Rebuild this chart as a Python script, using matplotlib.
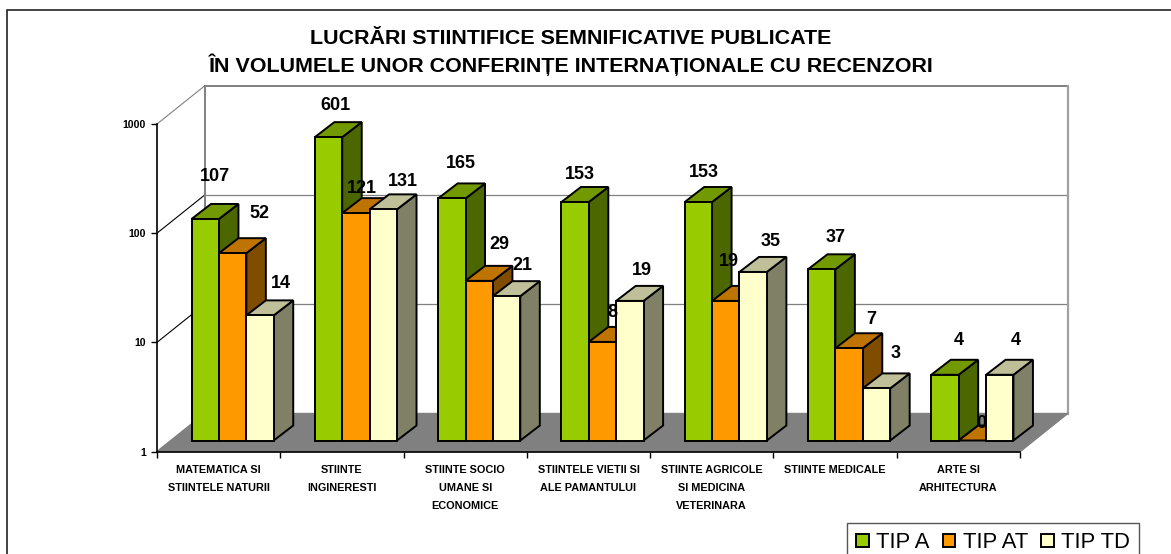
import numpy as np
import matplotlib
matplotlib.use('Agg')
import matplotlib.pyplot as plt
from matplotlib.patches import Patch, Polygon, Rectangle

plt.rcParams['font.family'] = ['Liberation Sans', 'DejaVu Sans']

title = 'LUCRĂRI STIINTIFICE SEMNIFICATIVE PUBLICATE\nÎN VOLUMELE UNOR CONFERINȚE INTERNAȚIONALE CU RECENZORI'

categories = ['MATEMATICA SI\nSTIINTELE NATURII', 'STIINTE\nINGINERESTI',
              'STIINTE SOCIO\nUMANE SI\nECONOMICE', 'STIINTELE VIETII SI\nALE PAMANTULUI',
              'STIINTE AGRICOLE\nSI MEDICINA\nVETERINARA', 'STIINTE MEDICALE',
              'ARTE SI\nARHITECTURA']
series_names = ['TIP A', 'TIP AT', 'TIP TD']
tip_a = [107, 601, 165, 153, 153, 37, 4]
tip_at = [52, 121, 29, 8, 19, 7, 0]
tip_td = [14, 131, 21, 19, 35, 3, 4]
y_ticks = [1, 10, 100, 1000]

# front, side, top colours of each series
colors = [('#99CC00', '#4C6600', '#739900'),
          ('#FF9900', '#804D00', '#BF7300'),
          ('#FFFFCC', '#808066', '#BFBF99')]

# where Excel put each value label, pixels from the middle of the bar top
label_dx = [[10, 27, 21], [7, 6, 20], [9, 20, 16], [5, 10, 12], [5, 3, 17], [14, 22, 19], [14, 9, 16]]
label_dy = [[42, 40, 32], [32, 25, 28], [35, 36, 31], [28, 29, 30], [30, 39, 30], [32, 29, 35], [34, 17, 34]]

W, H = 1171, 554
fig = plt.figure(figsize=(W / 100, H / 100), dpi=100)
ax = fig.add_axes([157 / W, (H - 451.5) / H, 863 / W, 327.5 / H])
ax.set_xlim(0, len(categories))
ax.set_yscale('log')
ax.set_ylim(1, 1000)

px_x = 863 / len(categories)
px_y = 327.5 / 3


def shift(x, y, dx, dy):
    """move a data point by dx, dy pixels (y up), works on the log axis"""
    return x + dx / px_x, y * 10 ** (dy / px_y)


def face(points, color, z, lw=1.4, edge='black'):
    ax.add_patch(Polygon(points, closed=True, facecolor=color, edgecolor=edge,
                         linewidth=lw, zorder=z, clip_on=False, joinstyle='miter'))


# walls and floor
n = len(categories)
depth = (47.5, 38)
floor = [(0, 1), (n, 1), shift(n, 1, *depth), shift(0, 1, *depth)]
face(floor, '#808080', 1.5, lw=1, edge='#808080')
for v in y_ticks[1:]:
    ax.plot(*zip((0, v), shift(0, v, *depth)), color='black' if v < 1000 else '#808080',
            lw=0.8, zorder=1, clip_on=False)
    ax.plot(*zip(shift(0, v, *depth), shift(n, v, *depth)), color='#808080',
            lw=1.4 if v == 1000 else 0.9, zorder=1, clip_on=False)
ax.plot(*zip(shift(0, 1, *depth), shift(0, 1000, *depth)), color='#808080', lw=1.4, zorder=1, clip_on=False)
ax.plot(*zip(shift(n, 1, *depth), shift(n, 1000, *depth)), color='#A0A0A0', lw=1.6, zorder=1, clip_on=False)
ax.plot(*zip((n, 1), shift(n, 1, *depth)), color='#808080', lw=1, zorder=1.6, clip_on=False)

# bars, front plane sits a bit inside the floor
bar_w = 1 / 4.5
base_dx, base_dy = 14, 11
bar_depth = (19.5, 15)
z = 3
for i in range(n):
    for s, values in enumerate([tip_a, tip_at, tip_td]):
        v = max(values[i], 1)
        x0, bottom = shift(i + 0.5 - 1.5 * bar_w + s * bar_w, 1, base_dx, base_dy)
        x1 = x0 + bar_w
        top = v * bottom
        front, side, upper = colors[s]
        face([(x1, bottom), shift(x1, bottom, *bar_depth), shift(x1, top, *bar_depth), (x1, top)], side, z)
        face([(x0, top), (x1, top), shift(x1, top, *bar_depth), shift(x0, top, *bar_depth)], upper, z)
        if values[i] > 1:
            ax.bar(x0, top - bottom, width=bar_w, bottom=bottom, align='edge', color=front,
                   edgecolor='black', linewidth=1.4, zorder=z, clip_on=False)
        ax.annotate(str(values[i]), xy=(x0 + bar_w / 2, top),
                    xytext=(label_dx[i][s] * 0.72, label_dy[i][s] * 0.72), textcoords='offset points',
                    ha='center', va='center', fontsize=13, fontweight='bold', color='black',
                    zorder=50, annotation_clip=False)
        z += 1

# axes
for side in ['top', 'right']:
    ax.spines[side].set_visible(False)
for side in ['left', 'bottom']:
    ax.spines[side].set_linewidth(1.2)
    ax.spines[side].set_zorder(2)
ax.set_yticks(y_ticks)
ax.set_yticklabels([str(v) for v in y_ticks], fontsize=7.6, fontweight='bold')
ax.minorticks_off()
ax.set_xticks(range(n + 1))
ax.set_xticklabels([])
ax.tick_params(axis='both', length=4, width=1, pad=4)
ax.patch.set_visible(False)
for i, label in enumerate(categories):
    ax.annotate(label, xy=(i + 0.5, 1), xytext=(0, -9.5), textcoords='offset points',
                ha='center', va='top', fontsize=7.8, fontweight='bold', linespacing=2.03,
                annotation_clip=False)

fig.text(571 / W, 1 - 52.5 / H, title, ha='center', va='center', fontsize=15.45,
         fontweight='bold', linespacing=1.25)

handles = [Patch(facecolor=c[0], edgecolor='black', linewidth=1.4) for c in colors]
ax.legend(handles, series_names, loc='upper left', bbox_to_anchor=(847 / W, 1 - 523 / H),
          bbox_transform=fig.transFigure, ncols=3, fontsize=15.8, frameon=True, fancybox=False,
          framealpha=1, edgecolor='#555555', borderaxespad=0, handlelength=0.58, handleheight=0.58,
          handletextpad=0.33, columnspacing=0.6, borderpad=0.42).set_zorder(60)

# outer frame, right and bottom fall off the picture
fig.add_artist(Rectangle((7 / W, -0.1), 1.2, 1.1 - 10 / H, transform=fig.transFigure,
                         fill=False, edgecolor='#222222', linewidth=1.2))

fig.savefig('out.png', dpi=100)
